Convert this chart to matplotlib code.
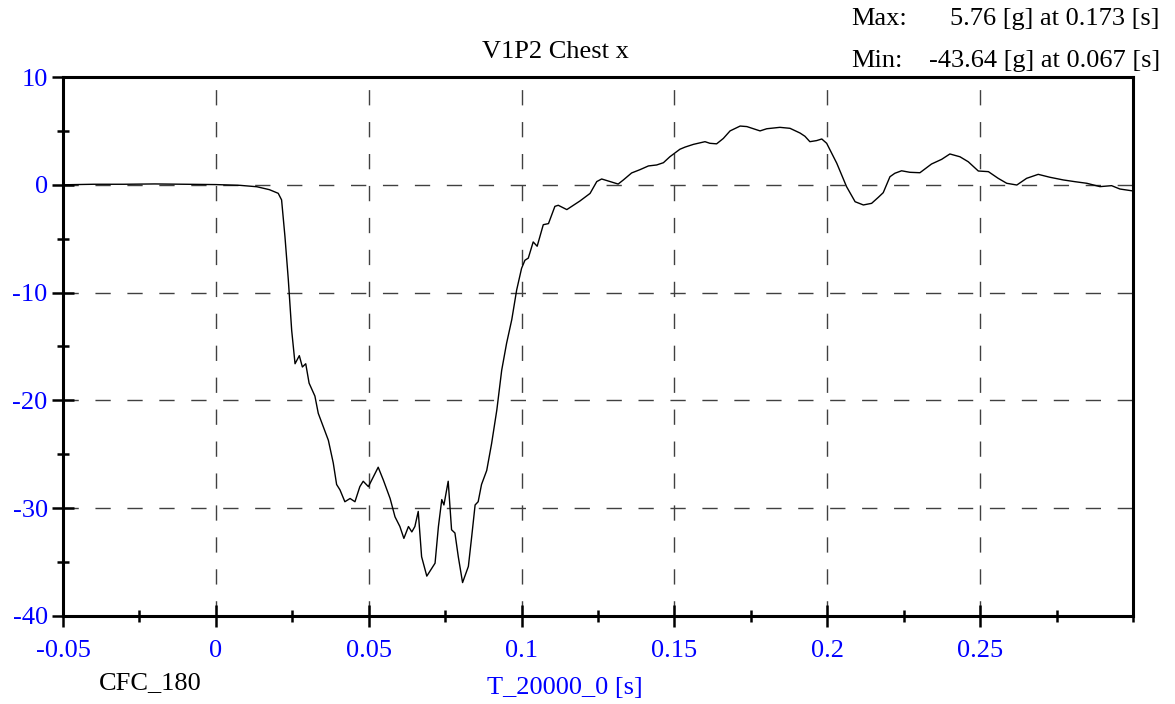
import matplotlib
matplotlib.use('Agg')
import matplotlib.pyplot as plt
from matplotlib.ticker import MultipleLocator, FuncFormatter

# channel data (time [s], acceleration [g])
t = [-0.05, -0.04, -0.03, -0.02, -0.01, 0.0, 0.005, 0.0079, 0.0134, 0.0175,
     0.0204, 0.0215, 0.0226, 0.0237, 0.0248, 0.0259, 0.0273, 0.0283, 0.0294, 0.0305,
     0.0324, 0.0335, 0.0351, 0.0368, 0.0384, 0.0395, 0.0406, 0.0422, 0.0439, 0.0455,
     0.0471, 0.0482, 0.0499, 0.0515, 0.0531, 0.0548, 0.0570, 0.0586, 0.0602, 0.0615,
     0.0630, 0.0641, 0.0651, 0.0662, 0.0673, 0.0690, 0.0706, 0.0717, 0.0728, 0.0739,
     0.0746, 0.0760, 0.0771, 0.0782, 0.0793, 0.0807, 0.0826, 0.0837, 0.0848, 0.0858,
     0.0869, 0.0886, 0.0902, 0.0919, 0.0935, 0.0951, 0.0968, 0.0984, 0.1000, 0.1011,
     0.1022, 0.1038, 0.1051, 0.1071, 0.1088, 0.1109, 0.1120, 0.1148, 0.1164, 0.1191,
     0.1224, 0.1246, 0.1262, 0.1289, 0.1316, 0.1333, 0.1360, 0.1387, 0.1415, 0.1442,
     0.1464, 0.1485, 0.1518, 0.1535, 0.1562, 0.1600, 0.1616, 0.1638, 0.1660, 0.1682,
     0.1715, 0.1737, 0.1758, 0.1780, 0.1802, 0.1845, 0.1878, 0.1911, 0.1927, 0.1943,
     0.1965, 0.1982, 0.1998, 0.2031, 0.2063, 0.2091, 0.2118, 0.2145, 0.2167, 0.2183,
     0.2205, 0.2221, 0.2243, 0.2270, 0.2303, 0.2341, 0.2374, 0.2401, 0.2434, 0.2461,
     0.2494, 0.2527, 0.2559, 0.2587, 0.2620, 0.2652, 0.2690, 0.2728, 0.2772, 0.2810,
     0.2849, 0.2892, 0.2930, 0.2957, 0.2995]
acc = [0.0, 0.05, 0.05, 0.08, 0.05, 0.02, -0.02, -0.05, -0.18, -0.45,
       -0.79, -1.4, -4.8, -8.8, -13.5, -16.6, -15.85, -16.9, -16.6, -18.4,
       -19.6, -21.2, -22.4, -23.7, -25.8, -27.8, -28.3, -29.4, -29.1, -29.4,
       -28.0, -27.5, -28.0, -27.1, -26.2, -27.4, -29.1, -30.8, -31.7, -32.8,
       -31.7, -32.2, -31.7, -30.3, -34.5, -36.3, -35.6, -35.1, -31.7, -29.2,
       -29.7, -27.5, -32.0, -32.3, -34.5, -36.9, -35.4, -32.6, -29.7, -29.4,
       -27.8, -26.5, -24.0, -20.9, -17.2, -14.7, -12.5, -9.75, -7.75, -7.0,
       -6.8, -5.3, -5.7, -3.7, -3.6, -2.0, -1.9, -2.3, -2.0, -1.5,
       -0.8, 0.3, 0.54, 0.3, 0.07, 0.45, 1.1, 1.4, 1.75, 1.84,
       2.05, 2.6, 3.3, 3.5, 3.75, 4.0, 3.85, 3.8, 4.3, 5.0,
       5.45, 5.4, 5.2, 5.0, 5.2, 5.33, 5.24, 4.8, 4.5, 4.0,
       4.1, 4.25, 3.85, 2.0, -0.17, -1.57, -1.87, -1.72, -1.16, -0.73,
       0.75, 1.07, 1.3, 1.16, 1.12, 1.93, 2.36, 2.86, 2.6, 2.14,
       1.28, 1.22, 0.6, 0.14, -0.02, 0.6, 0.97, 0.7, 0.45, 0.29,
       0.14, -0.17, -0.08, -0.39, -0.55]

x_ticks = [-0.05, 0.0, 0.05, 0.1, 0.15, 0.2, 0.25]
y_ticks = [-40, -30, -20, -10, 0, 10]

title = 'V1P2 Chest x'
max_text = ('Max:', '5.76 [g] at 0.173 [s]')
min_text = ('Min:', '-43.64 [g] at 0.067 [s]')
filter_label = 'CFC_180'
x_label = 'T_20000_0 [s]'

plt.rcParams['font.family'] = ['Liberation Serif', 'DejaVu Serif']
fs = 19
blue = '#0000ff'

fig = plt.figure(figsize=(11.75, 7.04), dpi=100)
ax = fig.add_axes([63 / 1175, 1 - 616 / 704, 1070 / 1175, 539 / 704])

ax.plot(t, acc, color='black', linewidth=1.0)

# grid lines only at the interior major ticks
grid_kw = dict(color='#404040', linewidth=1.0, dashes=(11, 12), zorder=0)
for xv in x_ticks[1:]:
    ax.axvline(xv, **grid_kw)
for yv in y_ticks[1:-1]:
    ax.axhline(yv, **grid_kw)

ax.set_xticks(x_ticks)
ax.set_yticks(y_ticks)
ax.xaxis.set_minor_locator(MultipleLocator(0.025))
ax.yaxis.set_minor_locator(MultipleLocator(5))
ax.set_xlim(-0.05, 0.30)
ax.set_ylim(-40, 10)


def fmt(v, pos):
    return '%g' % round(v, 4)


ax.xaxis.set_major_formatter(FuncFormatter(fmt))
ax.yaxis.set_major_formatter(FuncFormatter(fmt))

ax.tick_params(which='major', direction='inout', length=16, width=1.8,
               labelsize=fs, labelcolor=blue, pad=3)
ax.tick_params(axis='x', which='major', pad=9)
ax.tick_params(which='minor', direction='inout', length=9, width=1.8)

for sp in ax.spines.values():
    sp.set_linewidth(2.2)

fig.text(555 / 1175, 1 - 52 / 704, title, fontsize=fs, ha='center', va='center')
fig.text(851 / 1175, 1 - 19 / 704, max_text[0], fontsize=fs, ha='left', va='center')
fig.text(1160 / 1175, 1 - 19 / 704, max_text[1], fontsize=fs, ha='right', va='center')
fig.text(851 / 1175, 1 - 61 / 704, min_text[0], fontsize=fs, ha='left', va='center')
fig.text(1160 / 1175, 1 - 61 / 704, min_text[1], fontsize=fs, ha='right', va='center')
fig.text(150 / 1175, 1 - 683 / 704, filter_label, fontsize=fs, ha='center', va='center')
fig.text(565 / 1175, 1 - 688 / 704, x_label, fontsize=fs, ha='center', va='center',
         color=blue)

fig.savefig('out.png', dpi=100)
